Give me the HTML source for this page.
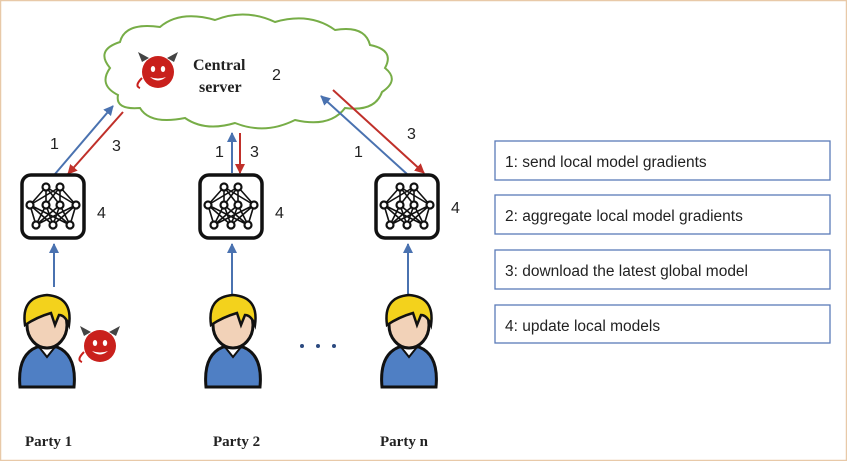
<!DOCTYPE html>
<html><head><meta charset="utf-8"><style>
html,body{margin:0;padding:0;background:#fff;}
svg{display:block;}
text{font-family:"Liberation Sans",sans-serif;}
text.serif{font-family:"Liberation Serif",serif;font-weight:bold;}
</style></head><body>
<svg width="847" height="461" viewBox="0 0 847 461" xmlns="http://www.w3.org/2000/svg">
<defs>
<marker id="ab" viewBox="0 0 10 10" refX="9" refY="5" markerWidth="5" markerHeight="5" orient="auto"><path d="M0,0L10,5L0,10z" fill="#4a72b0"/></marker>
<marker id="ar" viewBox="0 0 10 10" refX="9" refY="5" markerWidth="5" markerHeight="5" orient="auto"><path d="M0,0L10,5L0,10z" fill="#c0302a"/></marker>
<g id="nn">
<rect x="2" y="2" width="62" height="63" rx="9" fill="#fff" stroke="#111" stroke-width="3.5"/>
<g stroke="#111" stroke-width="1.6" fill="none">
<path d="M26,14L10,32M26,14L26,32M26,14L40,32M26,14L56,32M40,14L10,32M40,14L26,32M40,14L40,32M40,14L56,32"/>
<path d="M10,32L16,52M10,32L33,52M10,32L50,52M26,32L16,52M26,32L33,52M26,32L50,52M40,32L16,52M40,32L33,52M40,32L50,52M56,32L16,52M56,32L33,52M56,32L50,52"/>
</g>
<g fill="#fff" stroke="#111" stroke-width="2.2">
<circle cx="26" cy="14" r="3.5"/><circle cx="40" cy="14" r="3.5"/>
<circle cx="10" cy="32" r="3.5"/><circle cx="26" cy="32" r="3.5"/><circle cx="40" cy="32" r="3.5"/><circle cx="56" cy="32" r="3.5"/>
<circle cx="16" cy="52" r="3.5"/><circle cx="33" cy="52" r="3.5"/><circle cx="50" cy="52" r="3.5"/>
</g>
</g>
<g id="person">
<path d="M-27,92 Q-30,60 -10,52 L10,52 Q30,60 27,92 Z" fill="#4f7fc4" stroke="#111" stroke-width="3"/>
<path d="M-8,52 L0,62 L8,52" fill="#fff" stroke="#111" stroke-width="2"/>
<ellipse cx="0" cy="30" rx="20" ry="23" fill="#f2d2b8" stroke="#111" stroke-width="3"/>
<path d="M-22,30 Q-26,2 0,0 Q26,2 22,30 Q18,20 12,20 L8,30 L4,18 Q-10,22 -22,30Z" fill="#f3d21c" stroke="#111" stroke-width="2.5"/>
</g>
<g id="devil">
<path d="M-16,-10 L-20,-20 L-9,-14Z M16,-10 L20,-20 L9,-14Z" fill="#444"/>
<circle cx="0" cy="0" r="16" fill="#c9201c"/>
<path d="M-16,6 Q-24,14 -18,16" stroke="#c9201c" stroke-width="2" fill="none"/>
<ellipse cx="-5" cy="-3" rx="2.2" ry="3" fill="#fff"/><ellipse cx="5" cy="-3" rx="2.2" ry="3" fill="#fff"/>
<path d="M-8,5 Q0,12 8,5 Q0,8 -8,5Z" fill="#fff"/>
</g>
</defs>
<rect x="0.5" y="0.5" width="846" height="460" fill="#fff" stroke="#e8c9a8" stroke-width="1.5"/>
<path d="M118,95 Q98,85 110,68 Q95,50 120,42 Q125,22 160,27 Q180,10 215,20 Q245,8 275,22 Q310,12 335,30 Q365,25 370,45 Q395,50 385,68 Q400,80 382,92 Q375,112 345,108 Q330,128 295,120 Q265,135 235,123 Q205,132 185,118 Q150,125 140,108 Q115,110 118,95Z" fill="#fff" stroke="#77ad47" stroke-width="2"/>
<use href="#devil" x="158" y="72"/>
<text x="193" y="70" class="serif" font-size="16" fill="#222">Central</text>
<text x="199" y="92" class="serif" font-size="16" fill="#222">server</text>
<text x="272" y="80" font-size="16" fill="#222">2</text>
<line x1="55" y1="174" x2="113" y2="106" stroke="#4a72b0" stroke-width="2" marker-end="url(#ab)"/>
<line x1="123" y1="112" x2="68" y2="174" stroke="#c0302a" stroke-width="2" marker-end="url(#ar)"/>
<line x1="232" y1="173" x2="232" y2="133" stroke="#4a72b0" stroke-width="2" marker-end="url(#ab)"/>
<line x1="240" y1="133" x2="240" y2="173" stroke="#c0302a" stroke-width="2" marker-end="url(#ar)"/>
<line x1="407" y1="174" x2="321" y2="96" stroke="#4a72b0" stroke-width="2" marker-end="url(#ab)"/>
<line x1="333" y1="90" x2="424" y2="173" stroke="#c0302a" stroke-width="2" marker-end="url(#ar)"/>
<line x1="54" y1="287" x2="54" y2="244" stroke="#4a72b0" stroke-width="2" marker-end="url(#ab)"/>
<line x1="232" y1="294" x2="232" y2="244" stroke="#4a72b0" stroke-width="2" marker-end="url(#ab)"/>
<line x1="408" y1="294" x2="408" y2="244" stroke="#4a72b0" stroke-width="2" marker-end="url(#ab)"/>
<g font-size="16" fill="#222">
<text x="50" y="149">1</text><text x="112" y="151">3</text>
<text x="215" y="157">1</text><text x="250" y="157">3</text>
<text x="354" y="157">1</text><text x="407" y="139">3</text>
<text x="97" y="218">4</text><text x="275" y="218">4</text><text x="451" y="213">4</text>
</g>
<use href="#nn" x="20" y="173"/>
<use href="#nn" x="198" y="173"/>
<use href="#nn" x="374" y="173"/>
<use href="#person" x="47" y="295"/>
<use href="#person" x="233" y="295"/>
<use href="#person" x="409" y="295"/>
<use href="#devil" x="100" y="346"/>
<g fill="#2c4a80"><circle cx="302" cy="346" r="2"/><circle cx="318" cy="346" r="2"/><circle cx="334" cy="346" r="2"/></g>
<g font-size="15" fill="#222">
<text class="serif" x="25" y="446">Party 1</text><text class="serif" x="213" y="446">Party 2</text><text class="serif" x="380" y="446">Party n</text>
</g>
<g fill="#fff" stroke="#5b7bb8" stroke-width="1.3">
<rect x="495" y="141" width="335" height="39"/>
<rect x="495" y="195" width="335" height="39"/>
<rect x="495" y="250" width="335" height="39"/>
<rect x="495" y="305" width="335" height="38"/>
</g>
<g font-size="15.5" fill="#222">
<text x="505" y="167">1: send local model gradients</text>
<text x="505" y="221">2: aggregate local model gradients</text>
<text x="505" y="276">3: download the latest global model</text>
<text x="505" y="331">4: update local models</text>
</g>
</svg>
</body></html>
